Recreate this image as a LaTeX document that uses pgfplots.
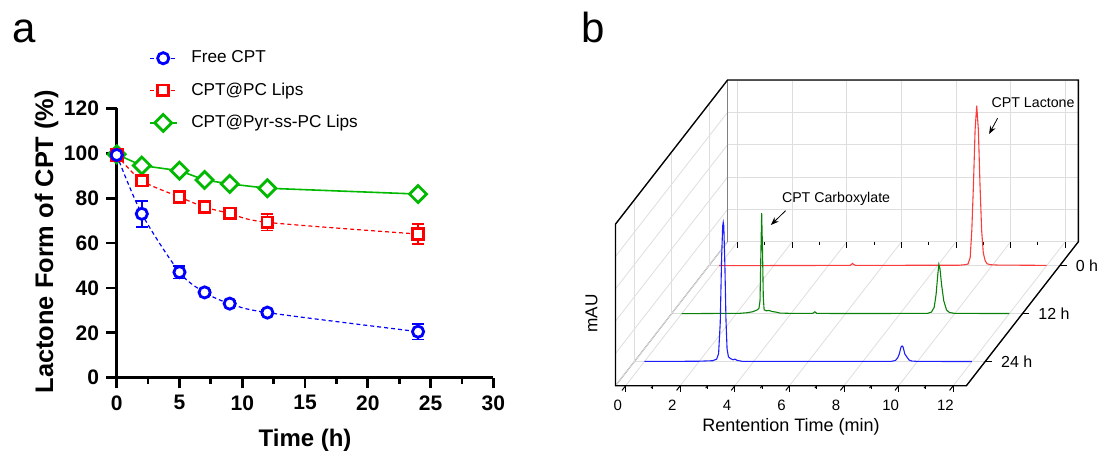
\documentclass[border=0pt]{standalone}
\usepackage{fontspec}
\setmainfont{Liberation Sans}
\usepackage{pgfplots}
\usepackage{pgfplotstable}
\pgfplotsset{compat=1.18}
\usetikzlibrary{arrows.meta}

\definecolor{cblue}{RGB}{0,0,255}
\definecolor{cred}{RGB}{255,0,0}
\definecolor{cgreen}{RGB}{0,185,0}
\definecolor{tred}{RGB}{250,60,60}
\definecolor{tgreen}{RGB}{10,130,10}
\definecolor{tblue}{RGB}{30,30,250}

% panel a: lactone form (%) vs time (h), mean and error
\pgfplotstableread{
t y e
0 99.2 0.8
2 73.0 5.8
5 47.0 2.8
7 38.0 1.2
9 33.0 1.2
12 29.0 1.2
24 20.5 3.4
}\freecpt
\pgfplotstableread{
t y e
0 99.2 0.8
2 87.8 1.2
5 80.5 1.5
7 76.0 1.2
9 73.2 2.5
12 69.2 3.7
24 64.0 4.5
}\pclips
\pgfplotstableread{
t y e
0 99.5 0.5
2 94.5 0.5
5 92.2 0.5
7 88.1 0.5
9 86.3 0.5
12 84.4 0.5
24 81.8 0.5
}\pyrlips

% error bars alone, drawn before the white-filled marks
\pgfplotsset{
  ebar/.style={forget plot, draw=none, mark=none,
    error bars/.cd, y dir=both, y explicit,
    error bar style={draw=#1, line width=0.8pt, solid},
    error mark options={draw=#1, rotate=90, mark size=3pt, line width=0.8pt}},
}

\begin{document}
\begin{tikzpicture}
\useasboundingbox (0,0) rectangle (550.5pt,-227pt);

\node[anchor=base west, font=\fontsize{21}{24}\selectfont, inner sep=0pt] at (6pt,-21.5pt) {a};
\node[anchor=base west, font=\fontsize{21}{24}\selectfont, inner sep=0pt] at (290.5pt,-21.5pt) {b};

\begin{axis}[
  at={(58.35pt,-188.85pt)}, anchor=origin,
  scale only axis, width=188.35pt, height=134.7pt,
  xmin=0, xmax=30, ymin=0, ymax=120,
  axis lines*=left, clip=false,
  axis line style={line width=1.5pt},
  xtick={0,5,...,30}, minor x tick num=1, ytick={0,20,...,120},
  tick align=outside, major tick length=5.3pt, minor tick length=3pt,
  tick style={line width=1.4pt, black},
  /pgf/number format/assume math mode=true,
  ticklabel style={font=\fontsize{10.5}{12}\selectfont\bfseries},
  xlabel={Time (h)}, ylabel={Lactone Form of CPT (\%)},
  xlabel style={font=\fontsize{12}{14}\selectfont\bfseries, at={(axis description cs:0.5,-0.231)}, anchor=center},
  ylabel style={font=\fontsize{12.7}{14}\selectfont\bfseries, at={(axis description cs:-0.186,0.505)}, anchor=center},
  reverse legend,
  legend cell align=left,
  legend image code/.code={\draw[mark repeat=2,mark phase=2] plot coordinates {(0pt,0pt) (6.65pt,0pt) (13.3pt,0pt)};},
  legend style={at={(axis description cs:0.085,1.23)}, anchor=north west, draw=none, fill=none,
    font=\fontsize{8.6}{10}\selectfont, row sep=4.5pt, inner sep=0pt,
    /tikz/every odd column/.append style={column sep=5pt}},
]
\addplot[ebar=cgreen] table[x=t, y=y, y error=e] {\pyrlips};
\addplot[ebar=cred] table[x=t, y=y, y error=e] {\pclips};
\addplot[ebar=cblue] table[x=t, y=y, y error=e] {\freecpt};

\addplot[cgreen, line width=0.8pt, mark=square*, mark size=3pt,
  mark options={rotate=45, fill=white, solid, line width=1.4pt}]
  table[x=t, y=y] {\pyrlips};
\addlegendentry{CPT@Pyr-ss-PC Lips}
\addplot[cred, line width=0.6pt, dash pattern=on 2pt off 1.5pt, smooth, mark=square*, mark size=2.7pt,
  mark options={fill=white, solid, line width=1.4pt}]
  table[x=t, y=y] {\pclips};
\addlegendentry{CPT@PC Lips}
\addplot[cblue, line width=0.6pt, dash pattern=on 2pt off 1.5pt, smooth, mark=*, mark size=2.8pt,
  mark options={fill=white, solid, line width=1.4pt}]
  table[x=t, y=y] {\freecpt};
\addlegendentry{Free CPT}
\end{axis}

\begin{axis}[
  at={(359.5pt,-132.85pt)}, anchor=origin,
  x={(13.65pt,0pt)}, y={(1.5556pt,2pt)}, z={(0pt,0.16167pt)},
  xmin=-0.37, xmax=12.48, ymin=-30, ymax=6, zmin=0, zmax=500,
  xtick={0,2,...,12}, minor x tick num=1,
  ytick={-24,-12,0}, yticklabels={24 h,12 h,0 h},
  ztick={0,100,...,500}, zticklabels={},
  xtick pos=left, ytick pos=right, yticklabel pos=left,
  ztick style={draw=none}, ytick style={draw=none},
  grid=major, major grid style={black!13, line width=0.4pt},
  axis line style={line width=0.5pt, black!50},
  tick align=outside, major tick length=3pt, minor tick length=1.5pt,
  xtick style={black, line width=0.5pt},
  /pgf/number format/assume math mode=true,
  ticklabel style={font=\fontsize{7.5}{9}\selectfont},
  xticklabel style={yshift=-1.5pt},
  yticklabel style={font=\fontsize{8}{9}\selectfont, anchor=west, xshift=1.5pt},
  xlabel={Rentention Time (min)}, zlabel={mAU},
  every axis x label/.style={at={(rel axis cs:0.5,0,0)}, anchor=center, yshift=-20.5pt, font=\fontsize{9}{10}\selectfont},
  every axis z label/.style={at={(rel axis cs:0,0,0.5)}, anchor=center, xshift=-12pt, yshift=-4.2pt, rotate=90, font=\fontsize{8.6}{10}\selectfont},
  clip=false,
]
% outer edges of the box in black, and the depth ticks on the right edge
\draw[black, line width=0.65pt] (rel axis cs:0,0,0) -- (rel axis cs:1,0,0) -- (rel axis cs:1,1,0)
  -- (rel axis cs:1,1,1) -- (rel axis cs:0,1,1) -- (rel axis cs:0,0,1) -- cycle;
\draw[black, line width=0.6pt] (axis cs:12.48,0,0) -- (axis cs:12.74,0,0);
\draw[black, line width=0.6pt] (axis cs:12.48,-12,0) -- (axis cs:12.74,-12,0);
\draw[black, line width=0.6pt] (axis cs:12.48,-24,0) -- (axis cs:12.74,-24,0);

% 0 h
\addplot3[tred, line width=0.55pt] coordinates {
 (0,0,0) (2,0,0.5) (4.8,0,1) (4.85,0,4) (4.89,0,7) (4.93,0,4) (5,0,1) (8.8,0,1.5) (9.0,0,3)
 (9.12,0,5) (9.2,0,25) (9.26,0,110) (9.32,0,250) (9.38,0,420) (9.44,0,495) (9.5,0,420)
 (9.56,0,250) (9.62,0,110) (9.68,0,40) (9.75,0,15) (9.82,0,6) (9.95,0,3) (10.2,0,2) (12,0,1)};
% 12 h
\addplot3[tgreen, line width=0.55pt] coordinates {
 (0,-12,0) (1.5,-12,1) (2.1,-12,1) (2.4,-12,3) (2.6,-12,6) (2.75,-12,11) (2.83,-12,16)
 (2.87,-12,40) (2.9,-12,180) (2.93,-12,311) (2.96,-12,200) (2.99,-12,50) (3.02,-12,12)
 (3.1,-12,9) (3.2,-12,10) (3.3,-12,7) (3.45,-12,5) (3.6,-12,2) (4,-12,1) (4.8,-12,1)
 (4.88,-12,6) (4.95,-12,1) (6,-12,0.5) (9.0,-12,1) (9.15,-12,5) (9.25,-12,20) (9.32,-12,60)
 (9.38,-12,120) (9.42,-12,152) (9.46,-12,140) (9.52,-12,90) (9.6,-12,40) (9.7,-12,12)
 (9.8,-12,4) (10,-12,1) (12,-12,0.5)};
% 24 h
\addplot3[tblue, line width=0.55pt] coordinates {
 (0,-24,1) (1,-24,1) (2,-24,1.5) (2.5,-24,3) (2.65,-24,8) (2.72,-24,25) (2.78,-24,120)
 (2.83,-24,320) (2.87,-24,420) (2.89,-24,431) (2.91,-24,420) (2.95,-24,300) (2.99,-24,130)
 (3.03,-24,40) (3.08,-24,15) (3.15,-24,10) (3.25,-24,6) (3.32,-24,8) (3.4,-24,4) (3.6,-24,1)
 (4,-24,1) (9.05,-24,1) (9.2,-24,4) (9.28,-24,12) (9.34,-24,24) (9.4,-24,45) (9.44,-24,48.6)
 (9.48,-24,45) (9.54,-24,24) (9.62,-24,14) (9.7,-24,5) (9.8,-24,2) (10,-24,1) (12,-24,0.5)};

\node[font=\fontsize{7.1}{8}\selectfont] at (axis cs:10.82,6,430.6) {CPT Lactone};
\draw[-{Stealth[length=4pt,width=3pt]}, line width=0.4pt] (axis cs:9.52,6,381.7) -- (axis cs:9.21,6,333.1);
\node[font=\fontsize{7.1}{8}\selectfont] at (axis cs:3.604,6,133) {CPT Carboxylate};
\draw[-{Stealth[length=4pt,width=3pt]}, line width=0.4pt] (axis cs:1.755,6,95.9) -- (axis cs:1.216,6,51.7);
\end{axis}
\end{tikzpicture}
\end{document}
